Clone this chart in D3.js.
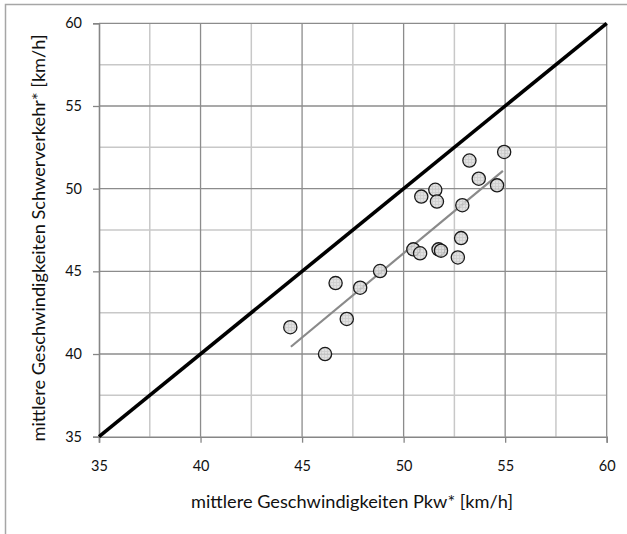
<!DOCTYPE html>
<html><head><meta charset="utf-8">
<script src="https://cdn.jsdelivr.net/npm/d3@7"></script>
<style>body{margin:0;background:#fff}svg{display:block}text{font-family:Lato,"Open Sans",sans-serif;fill:#111}</style>
</head><body>
<script>
const pkw = [44.42,46.13,46.65,47.2,47.86,48.84,50.48,50.81,50.87,51.56,51.64,51.72,51.84,52.67,52.83,52.89,53.24,53.7,54.6,54.95];
const schwer = [41.62,40.0,44.29,42.12,44.01,45.02,46.33,46.09,49.52,49.93,49.22,46.33,46.25,45.84,47.01,49.0,51.7,50.6,50.2,52.22];
const trendX = [44.45,54.89];
const trendY = [40.44,51.08];
const identity = [35,60];
const majorTicks = [35,40,45,50,55,60];
const minorTicks = [37.5,42.5,47.5,52.5,57.5];
const xTitle = "mittlere Geschwindigkeiten Pkw* [km/h]";
const yTitle = "mittlere Geschwindigkeiten Schwerverkehr* [km/h]";

const W=627,H=534;
const svg=d3.select("body").append("svg").attr("width",W).attr("height",H);
const x=d3.scaleLinear().domain([35,60]).range([99,606.7]);
const y=d3.scaleLinear().domain([35,60]).range([436.7,23.3]);

// outer frame
svg.append("rect").attr("x",5.5).attr("y",4.5).attr("width",W+20).attr("height",H+20)
  .attr("fill","none").attr("stroke","#a6a6a6").attr("stroke-width",1.5);

const defs=svg.append("defs");
const pat=defs.append("pattern").attr("id","hatch").attr("patternUnits","userSpaceOnUse").attr("width",3).attr("height",3);
pat.append("rect").attr("width",3).attr("height",3).attr("fill","#dcdcdc");
pat.append("path").attr("d","M0,0.5H3M0.5,0V3").attr("stroke","#c4c4c4").attr("stroke-width",0.8);

const g=svg.append("g");
// minor grid
g.selectAll(".mvx").data(minorTicks).join("line").attr("class","mvx")
  .attr("x1",d=>x(d)).attr("x2",d=>x(d)).attr("y1",y(35)).attr("y2",y(60))
  .attr("stroke","#c8c8c8").attr("stroke-width",1.5);
g.selectAll(".mhy").data(minorTicks).join("line").attr("class","mhy")
  .attr("y1",d=>y(d)).attr("y2",d=>y(d)).attr("x1",x(35)).attr("x2",x(60))
  .attr("stroke","#c8c8c8").attr("stroke-width",1.5);
// major grid
g.selectAll(".Mvx").data(majorTicks.slice(1)).join("line").attr("class","Mvx")
  .attr("x1",d=>x(d)).attr("x2",d=>x(d)).attr("y1",y(35)).attr("y2",y(60))
  .attr("stroke","#8c8c8c").attr("stroke-width",1.3);
g.selectAll(".Mhy").data(majorTicks.slice(1)).join("line").attr("class","Mhy")
  .attr("y1",d=>y(d)).attr("y2",d=>y(d)).attr("x1",x(35)).attr("x2",x(60))
  .attr("stroke","#8c8c8c").attr("stroke-width",1.3);

// axes
const xAxis=d3.axisBottom(x).tickValues(majorTicks).tickSize(6).tickPadding(18).tickFormat(d3.format("d"));
const yAxis=d3.axisLeft(y).tickValues(majorTicks).tickSize(6).tickPadding(11).tickFormat(d3.format("d"));
const gx=svg.append("g").attr("transform",`translate(0,${y(35)})`).call(xAxis);
const gy=svg.append("g").attr("transform",`translate(${x(35)},0)`).call(yAxis);
[gx,gy].forEach(a=>{
  a.select(".domain").attr("stroke","#868686").attr("stroke-width",1.6);
  a.selectAll(".tick line").attr("stroke","#868686").attr("stroke-width",1.3);
  a.selectAll(".tick text").style("font-size","14.5px").attr("fill","#111").style("font-family",'Lato,"Open Sans",sans-serif');
});

// identity line
svg.append("line").attr("x1",x(identity[0])).attr("y1",y(identity[0])).attr("x2",x(identity[1])).attr("y2",y(identity[1]))
  .attr("stroke","#000").attr("stroke-width",3.6);

// trend line
svg.append("line").attr("x1",x(trendX[0])).attr("y1",y(trendY[0])).attr("x2",x(trendX[1])).attr("y2",y(trendY[1]))
  .attr("stroke","#8a8a8a").attr("stroke-width",2.2);

// points
svg.selectAll(".pt").data(pkw.map((v,i)=>[v,schwer[i]])).join("circle").attr("class","pt")
  .attr("cx",d=>x(d[0])).attr("cy",d=>y(d[1])).attr("r",6.6)
  .attr("fill","url(#hatch)").attr("fill-opacity",0.85).attr("stroke","#1a1a1a").attr("stroke-width",1.3);

// titles (fit font size to the measured title width)
const xt=svg.append("text").attr("x",352).attr("y",508).attr("text-anchor","middle")
  .style("font-size","16px").text(xTitle);
const fs=16*322/xt.node().getComputedTextLength();
xt.style("font-size",fs+"px");
svg.append("text").attr("transform",`translate(45,238) rotate(-90)`).attr("text-anchor","middle")
  .style("font-size",fs+"px").text(yTitle);
</script>
</body></html>
